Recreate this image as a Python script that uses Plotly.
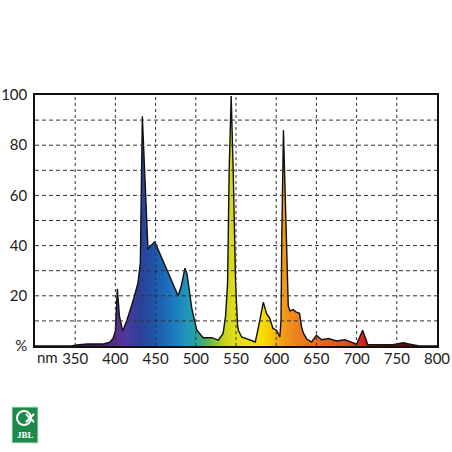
import base64
import plotly.graph_objects as go

# ---- data ----
wavelength_nm = [300, 345, 352, 365, 385, 393, 397, 400, 402.4, 405, 409, 414, 418, 422, 428, 431,
                 433.5, 440.5, 444, 449, 455, 466, 478, 482, 486.5, 489, 493, 495, 501, 509, 515,
                 520, 528, 534, 537, 539.5, 541.5, 544, 546.5, 549.5, 552, 553, 557, 567, 574, 578,
                 584, 588, 592, 596, 600.5, 604.5, 606, 607, 609, 612.5, 615, 617, 621, 625, 629,
                 631.5, 634, 638, 644, 650, 656.5, 665, 675, 685.5, 696, 700, 707.5, 714, 745,
                 752, 758, 765, 772, 778, 800]
intensity_pct = [0, 0, 0.4, 0.8, 0.8, 1.5, 3, 6, 22.8, 12, 6, 10, 14, 18, 25, 33,
                 91.5, 38.5, 40, 41.5, 37, 29, 20, 24, 31, 28.8, 19.5, 15, 6.5, 3.3, 3.3,
                 3.3, 2.3, 5, 12, 25, 70, 99.6, 70, 25, 8, 6.3, 3.6, 2.3, 1.6, 7.6,
                 17.5, 12.9, 11, 7, 6.3, 3.6, 10, 45, 86, 45, 16, 14, 14.5, 13.5, 13,
                 7.6, 5, 2.8, 1.6, 4.3, 2.5, 3, 2, 2.5, 1.2, 0.7, 6.3, 0.5, 0.5,
                 0.8, 1.3, 0.8, 0.3, 0, 0]

x_tick_vals = [350, 400, 450, 500, 550, 600, 650, 700, 750, 800]
x_tick_text = ["350", "400", "450", "500", "550", "600", "650", "700", "750", "800"]
y_tick_vals = [0, 20, 40, 60, 80, 100]
y_tick_text = ["%", "20", "40", "60", "80", "100"]
x_grid_vals = [350, 400, 450, 500, 550, 600, 650, 700, 750]
y_grid_vals = [10, 20, 30, 40, 50, 60, 70, 80, 90]

# ---- spectral colour gradient (style) ----
stops = [(300, '#2a1540'), (380, '#3b1f5e'), (400, '#5b2d8e'), (415, '#4a3a9c'), (430, '#2c3f96'),
         (445, '#1f52a6'), (460, '#1c68b6'), (475, '#1c7ec0'), (488, '#1f94bc'), (497, '#22a0a8'),
         (505, '#34a88c'), (515, '#5eb054'), (525, '#94c232'), (535, '#c4d21e'), (545, '#dcdc18'),
         (560, '#f0e012'), (580, '#f8e000'), (592, '#f8cc00'), (602, '#f4aa12'), (612, '#f0961a'),
         (630, '#ec7c20'), (660, '#e66422'), (690, '#e04a22'), (702, '#d82a22'), (708, '#e02020'),
         (718, '#9a1818'), (760, '#5a0e0e'), (800, '#3a0a0a')]
stop_xml = "".join(
    f'<stop offset="{(w - 300) / 500:.4f}" stop-color="{c}"/>' for w, c in stops)
svg = ('<svg xmlns="http://www.w3.org/2000/svg" width="500" height="100" viewBox="0 0 500 100" '
       'preserveAspectRatio="none"><defs><linearGradient id="g" x1="0" y1="0" x2="1" y2="0">'
       + stop_xml + '</linearGradient></defs><rect x="0" y="0" width="500" height="100" fill="url(#g)"/></svg>')
svg_uri = "data:image/svg+xml;base64," + base64.b64encode(svg.encode()).decode()

fig = go.Figure()
# top boundary for the white mask
fig.add_trace(go.Scatter(x=[300, 800], y=[100, 100], mode="lines",
                         line=dict(width=0, color="white"), hoverinfo="skip", showlegend=False))
# spectrum outline; area above it is masked white so the gradient shows only below
fig.add_trace(go.Scatter(x=wavelength_nm, y=intensity_pct, mode="lines", fill="tonexty",
                         fillcolor="white", line=dict(color="#111111", width=1.4),
                         hoverinfo="skip", showlegend=False))

shapes = []
for gx in x_grid_vals:
    shapes.append(dict(type="line", xref="x", yref="y", x0=gx, x1=gx, y0=0, y1=100,
                       line=dict(color="#333333", width=1, dash="3px,3px"), layer="above"))
for gy in y_grid_vals:
    shapes.append(dict(type="line", xref="x", yref="y", x0=300, x1=800, y0=gy, y1=gy,
                       line=dict(color="#333333", width=1, dash="4px,3px"), layer="above"))

# JBL logo (bottom-left), pixel-like paper coordinates
def px(xp):
    return (xp - 35) / 402

def py(yp):
    return (346 - yp) / 251

logo_line = dict(color="white", width=2)
shapes.append(dict(type="rect", xref="paper", yref="paper", x0=px(12), x1=px(38), y0=py(443), y1=py(407),
                   fillcolor="#1d8a4c", line=dict(color="#cfe3d5", width=1), layer="above"))
shapes.append(dict(type="circle", xref="paper", yref="paper", x0=px(17), x1=px(31), y0=py(425), y1=py(411),
                   fillcolor="rgba(0,0,0,0)", line=logo_line, layer="above"))
shapes.append(dict(type="line", xref="paper", yref="paper", x0=px(26), x1=px(34), y0=py(414), y1=py(422),
                   line=logo_line, layer="above"))
shapes.append(dict(type="line", xref="paper", yref="paper", x0=px(26), x1=px(34), y0=py(422), y1=py(414),
                   line=logo_line, layer="above"))

fig.update_layout(
    width=452, height=452,
    margin=dict(l=35, r=15, t=95, b=106, autoexpand=False),
    paper_bgcolor="white", plot_bgcolor="white",
    font=dict(family="Lato, Liberation Sans, sans-serif", size=15, color="#222222"),
    shapes=shapes,
    images=[dict(source=svg_uri, xref="x", yref="y", x=300, y=100, sizex=500, sizey=100,
                 sizing="stretch", xanchor="left", yanchor="top", layer="below")],
    annotations=[
        dict(text="nm", xref="paper", yref="paper", x=0, y=0, xanchor="left", yanchor="middle",
             yshift=-11, showarrow=False, font=dict(size=15, color="#222222")),
        dict(text="<b>JBL</b>", xref="paper", yref="paper", x=px(25), y=py(435), xanchor="center",
             yanchor="middle", showarrow=False,
             font=dict(family="Liberation Serif, serif", size=9, color="white")),
    ],
    xaxis=dict(range=[300, 800], tickmode="array", tickvals=x_tick_vals, ticktext=x_tick_text,
               showgrid=False, zeroline=False, showline=True, mirror=True, linecolor="#111111",
               linewidth=1.5, ticks="", ticklabelstandoff=-2, automargin=False),
    yaxis=dict(range=[0, 100], tickmode="array", tickvals=y_tick_vals, ticktext=y_tick_text,
               showgrid=False, zeroline=False, showline=True, mirror=True, linecolor="#111111",
               linewidth=1.5, ticks="", ticklabelstandoff=3, automargin=False),
)

# remove the browser's default 8px body margin so the 452px figure fills the window exactly
fig.write_html("out.html", config={"displayModeBar": False},
               post_script="document.body.style.margin='0';document.body.style.overflow='hidden';")
